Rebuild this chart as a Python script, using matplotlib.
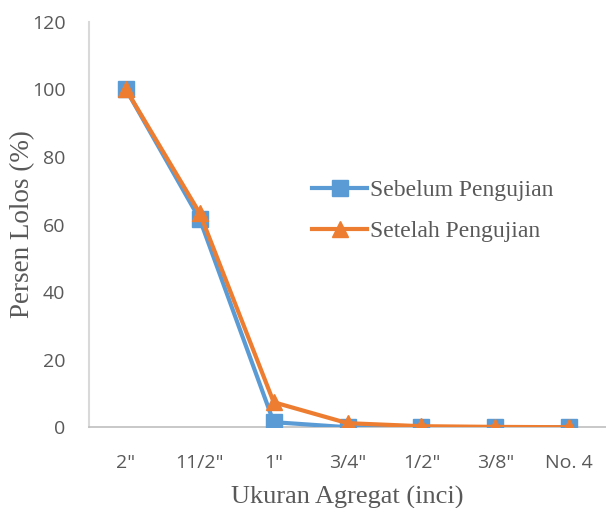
from matplotlib import pyplot as plt
import numpy as np

sizes = ['2"', '11/2"', '1"', '3/4"', '1/2"', '3/8"', 'No. 4']
sebelum = [100, 61.5, 1.5, 0, 0, 0, 0]
setelah = [100, 63.3, 7.4, 1.2, 0.3, 0.1, 0]

blue = '#5B9BD5'
orange = '#ED7D31'


def style_axes(ax):
    for side in ['top', 'right']:
        ax.spines[side].set_visible(False)
    ax.spines['left'].set_color('#d9d9d9')
    ax.spines['left'].set_linewidth(1.5)
    ax.spines['bottom'].set_color('#bfbfbf')
    ax.spines['bottom'].set_linewidth(1.2)
    ax.tick_params(length=0, labelsize=14, colors='#595959')
    ax.tick_params(axis='x', pad=19)
    ax.tick_params(axis='y', pad=17)
    for lbl in ax.get_xticklabels() + ax.get_yticklabels():
        lbl.set_fontfamily('Open Sans')


def main():
    fig = plt.figure(figsize=(6.06, 5.08), dpi=100, facecolor='white')
    ax = fig.add_axes([0.147, 0.159, 0.853, 0.798])

    x = np.arange(len(sizes))
    ax.plot(x, sebelum, color=blue, lw=3, marker='s', ms=11,
            label='Sebelum Pengujian', zorder=3)
    ax.plot(x, setelah, color=orange, lw=3, marker='^', ms=12,
            label='Setelah Pengujian', zorder=4)

    ax.set_xlim(-0.5, len(sizes) - 0.5)
    ax.set_ylim(0, 120)
    ax.set_yticks(range(0, 121, 20))
    ax.set_xticks(x)
    ax.set_xticklabels(sizes)
    style_axes(ax)

    ax.set_xlabel('Ukuran Agregat (inci)', fontsize=19, family='Liberation Serif',
                  color='#595959', labelpad=10)
    ax.set_ylabel('Persen Lolos (%)', fontsize=19.5, family='Liberation Serif',
                  color='#595959')
    ax.yaxis.set_label_coords(-0.104, 0.5)

    leg = ax.legend(loc='upper left', bbox_to_anchor=(0.431, 0.61), frameon=False,
                    prop={'family': 'Liberation Serif', 'size': 17},
                    borderpad=0, borderaxespad=0,
                    handlelength=2.35, handletextpad=0.1, labelspacing=0.8)
    for t in leg.get_texts():
        t.set_color('#595959')

    fig.savefig('out.png', dpi=100, facecolor='white')


if __name__ == '__main__':
    main()
